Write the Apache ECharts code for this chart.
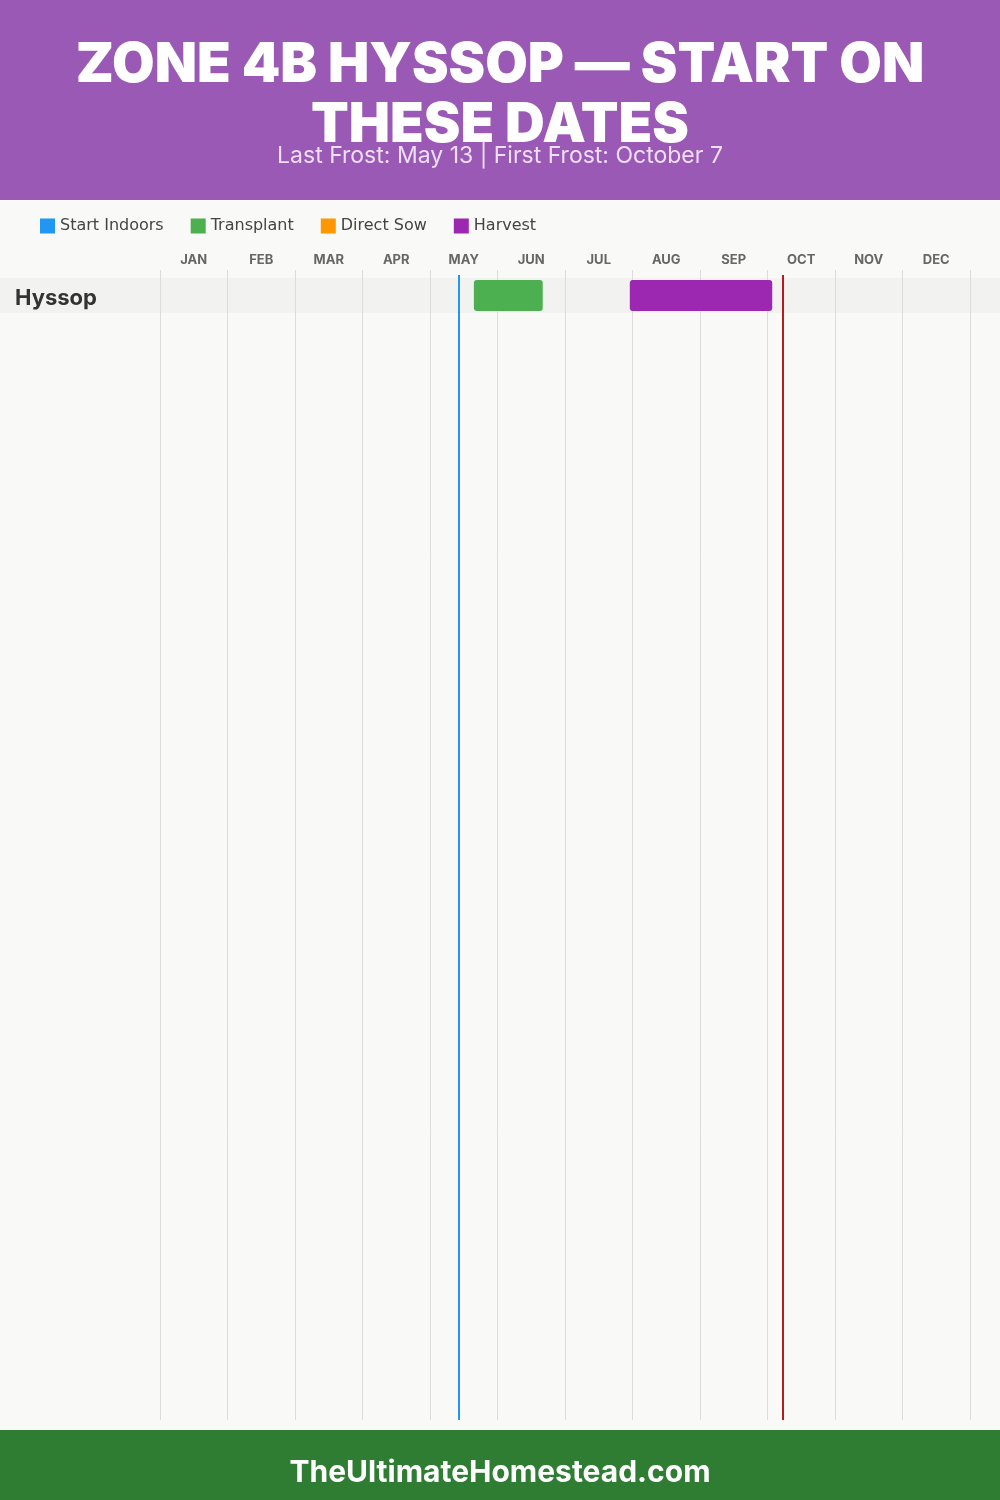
<!DOCTYPE html>
<html><head><meta charset="utf-8">
<script src="https://cdn.jsdelivr.net/npm/echarts@6/dist/echarts.min.js"></script>
<style>html,body{margin:0;padding:0;background:#f9f9f7}#c{width:1000px;height:1500px}</style>
</head><body><div id="c"></div>
<script>
const titleLines = ['ZONE 4B HYSSOP — START ON', 'THESE DATES'];
const subtitle = 'Last Frost: May 13 | First Frost: October 7';
const footerText = 'TheUltimateHomestead.com';
const months = ['JAN','FEB','MAR','APR','MAY','JUN','JUL','AUG','SEP','OCT','NOV','DEC'];
const crops = ['Hyssop'];
const legendNames = ['Start Indoors','Transplant','Direct Sow','Harvest'];
const legendColors = ['#2196f3','#4caf50','#ff9800','#9c27b0'];
// month positions as fractional months (0 = Jan 1)
const startIndoors = [];
const transplant = [[4.65, 5.67, 0]];
const directSow = [];
const harvest = [[6.96, 9.07, 0]];
const lastFrost = 4.42;   // May 13
const firstFrost = 9.23;  // Oct 7

const FONT = 'Inter, "Open Sans", sans-serif';
const chart = echarts.init(document.getElementById('c'), null, {renderer:'canvas'});

function renderBar(params, api){
  const s = api.coord([api.value(0), api.value(2)]);
  const e = api.coord([api.value(1), api.value(2)]);
  const h = api.size([0,1])[1] * 0.88;
  return {type:'rect', shape:{x:s[0], y:s[1]-h/2, width:e[0]-s[0], height:h, r:3},
          style:{fill: api.visual('color')}};
}
const dataSets = [startIndoors, transplant, directSow, harvest];
const barSeries = legendNames.map((n,i)=>({
  name:n, type:'custom', xAxisIndex:1, yAxisIndex:1, renderItem:renderBar,
  itemStyle:{color:legendColors[i]}, encode:{x:[0,1], y:2}, data:dataSets[i], z:5
}));

chart.setOption({
  backgroundColor:'#f9f9f7',
  animation:false,
  graphic:[
    {type:'rect', left:0, top:0, shape:{width:1000, height:200}, style:{fill:'#9b59b6'}, z:-1},
    {type:'rect', left:0, top:1430, shape:{width:1000, height:70}, style:{fill:'#2e7d32'}, z:-1},
    {type:'text', left:'center', top:38, style:{text:titleLines[0], fill:'#fff', font:'900 55px '+FONT}},
    {type:'text', left:'center', top:98, style:{text:titleLines[1], fill:'#fff', font:'900 55px '+FONT}},
    {type:'text', left:'center', top:145, style:{text:subtitle, fill:'#ecdff3', font:'400 23px '+FONT}},
    {type:'text', left:'center', top:1458, style:{text:footerText, fill:'#fff', font:'700 30px '+FONT}}
  ],
  legend:{
    left:40, top:218, padding:0, icon:'rect', itemWidth:15, itemHeight:15, itemGap:27,
    data:legendNames, selectedMode:false,
    textStyle:{color:'#444', fontSize:16, fontFamily:'"DejaVu Sans", sans-serif', fontWeight:400}
  },
  grid:[
    {left:160, right:30, top:270, bottom:80},
    {left:160, right:30, top:278, height:35},
    {left:0, right:0, top:278, height:35, show:true, backgroundColor:'#f2f2f1', borderWidth:0, z:0},
    {left:160, right:30, top:275, bottom:80}
  ],
  xAxis:[
    {gridIndex:0, type:'category', data:months, position:'top', boundaryGap:true,
     axisLine:{show:false}, axisTick:{show:false},
     axisLabel:{margin:3, color:'#666', fontSize:13, fontWeight:700, fontFamily:FONT},
     splitLine:{show:true, lineStyle:{color:'#dcdcdc', width:1}}, z:1},
    {gridIndex:1, type:'value', min:0, max:12, show:false},
    {gridIndex:2, type:'value', min:0, max:1, show:false},
    {gridIndex:3, type:'value', min:0, max:12, show:false}
  ],
  yAxis:[
    {gridIndex:0, type:'value', show:false},
    {gridIndex:1, type:'category', data:crops, inverse:true,
     axisLine:{show:false}, axisTick:{show:false}, splitLine:{show:false},
     axisLabel:{margin:145, align:'left', formatter:'{n|{value}}',
       rich:{n:{color:'#333', fontSize:22, fontWeight:700, fontFamily:FONT, padding:[5,0,0,0]}}}},
    {gridIndex:2, type:'value', show:false},
    {gridIndex:3, type:'value', min:0, max:1, show:false}
  ],
  series:[
    ...barSeries,
    {type:'line', xAxisIndex:3, yAxisIndex:3, data:[], silent:true, z:6,
     markLine:{symbol:'none', silent:true, label:{show:false},
       data:[
         {xAxis:lastFrost, lineStyle:{color:'#2196f3', width:2, type:'solid'}},
         {xAxis:firstFrost, lineStyle:{color:'#b71c1c', width:2, type:'solid'}}
       ]}}
  ]
});
</script></body></html>
